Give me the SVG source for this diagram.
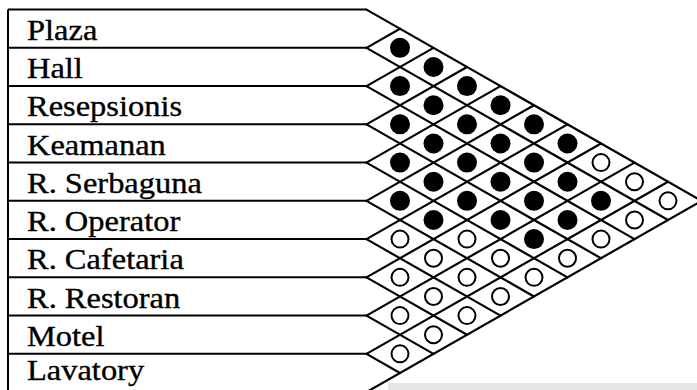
<svg xmlns="http://www.w3.org/2000/svg" width="697" height="390" viewBox="0 0 697 390">
<style>
.ln{stroke:#000;stroke-width:2.2;fill:none;stroke-linecap:round}
.hl{stroke:#000;stroke-width:2;fill:none}
.lbl{font-family:"Liberation Serif","Times New Roman",serif;font-size:29px;fill:#000;stroke:#000;stroke-width:0.35}
.f{fill:#000}
.o{fill:#fff;stroke:#000;stroke-width:2}
</style>
<rect x="0" y="0" width="697" height="390" fill="#fff"/>
<rect x="388" y="383" width="309" height="7" fill="#e6e6e6"/>
<line class="hl" x1="8" y1="9.6" x2="8" y2="390"/>
<line class="hl" x1="8" y1="9.6" x2="366.5" y2="9.6"/>
<g id="plaza"><line class="hl" x1="8" y1="47.85" x2="366.5" y2="47.85"/><text class="lbl" transform="translate(27,39.8) scale(1.12,1)">Plaza</text></g>
<g id="hall"><line class="hl" x1="8" y1="86.1" x2="366.5" y2="86.1"/><text class="lbl" transform="translate(27,78.1) scale(1.12,1)">Hall</text></g>
<g id="resepsionis"><line class="hl" x1="8" y1="124.35" x2="366.5" y2="124.35"/><text class="lbl" transform="translate(27,116.3) scale(1.12,1)">Resepsionis</text></g>
<g id="keamanan"><line class="hl" x1="8" y1="162.6" x2="366.5" y2="162.6"/><text class="lbl" transform="translate(27,154.6) scale(1.12,1)">Keamanan</text></g>
<g id="serbaguna"><line class="hl" x1="8" y1="200.85" x2="366.5" y2="200.85"/><text class="lbl" transform="translate(27,192.6) scale(1.12,1)">R. Serbaguna</text></g>
<g id="operator"><line class="hl" x1="8" y1="239.1" x2="366.5" y2="239.1"/><text class="lbl" transform="translate(27,231.1) scale(1.12,1)">R. Operator</text></g>
<g id="cafetaria"><line class="hl" x1="8" y1="277.35" x2="366.5" y2="277.35"/><text class="lbl" transform="translate(27,269.3) scale(1.12,1)">R. Cafetaria</text></g>
<g id="restoran"><line class="hl" x1="8" y1="315.6" x2="366.5" y2="315.6"/><text class="lbl" transform="translate(27,307.6) scale(1.12,1)">R. Restoran</text></g>
<g id="motel"><line class="hl" x1="8" y1="353.85" x2="366.5" y2="353.85"/><text class="lbl" transform="translate(27,345.8) scale(1.12,1)">Motel</text></g>
<g id="lavatory"><text class="lbl" transform="translate(27,380) scale(1.12,1)">Lavatory</text></g>
<g id="connectors">
<line class="ln" x1="366.5" y1="9.6" x2="701.5" y2="200.85"/>
<line class="ln" x1="366.5" y1="47.85" x2="668" y2="219.975"/>
<line class="ln" x1="366.5" y1="86.1" x2="634.5" y2="239.1"/>
<line class="ln" x1="366.5" y1="124.35" x2="601" y2="258.225"/>
<line class="ln" x1="366.5" y1="162.6" x2="567.5" y2="277.35"/>
<line class="ln" x1="366.5" y1="200.85" x2="534" y2="296.475"/>
<line class="ln" x1="366.5" y1="239.1" x2="500.5" y2="315.6"/>
<line class="ln" x1="366.5" y1="277.35" x2="467" y2="334.725"/>
<line class="ln" x1="366.5" y1="315.6" x2="433.5" y2="353.85"/>
<line class="ln" x1="366.5" y1="353.85" x2="400" y2="372.975"/>
<line class="ln" x1="366.5" y1="47.85" x2="400" y2="28.725"/>
<line class="ln" x1="366.5" y1="86.1" x2="433.5" y2="47.85"/>
<line class="ln" x1="366.5" y1="124.35" x2="467" y2="66.975"/>
<line class="ln" x1="366.5" y1="162.6" x2="500.5" y2="86.1"/>
<line class="ln" x1="366.5" y1="200.85" x2="534" y2="105.225"/>
<line class="ln" x1="366.5" y1="239.1" x2="567.5" y2="124.35"/>
<line class="ln" x1="366.5" y1="277.35" x2="601" y2="143.475"/>
<line class="ln" x1="366.5" y1="315.6" x2="634.5" y2="162.6"/>
<line class="ln" x1="366.5" y1="353.85" x2="668" y2="181.725"/>
<line class="ln" x1="366.5" y1="392.1" x2="701.5" y2="200.85"/>
</g>
<g id="cells">
<circle class="f" cx="400" cy="47.85" r="10"/>
<circle class="f" cx="400" cy="86.1" r="10"/>
<circle class="f" cx="400" cy="124.35" r="10"/>
<circle class="f" cx="400" cy="162.6" r="10"/>
<circle class="f" cx="400" cy="200.85" r="10"/>
<circle class="o" cx="400" cy="239.1" r="8.5"/>
<circle class="o" cx="400" cy="277.35" r="8.5"/>
<circle class="o" cx="400" cy="315.6" r="8.5"/>
<circle class="o" cx="400" cy="353.85" r="8.5"/>
<circle class="f" cx="433.5" cy="66.975" r="10"/>
<circle class="f" cx="433.5" cy="105.225" r="10"/>
<circle class="f" cx="433.5" cy="143.475" r="10"/>
<circle class="f" cx="433.5" cy="181.725" r="10"/>
<circle class="f" cx="433.5" cy="219.975" r="10"/>
<circle class="o" cx="433.5" cy="258.225" r="8.5"/>
<circle class="o" cx="433.5" cy="296.475" r="8.5"/>
<circle class="o" cx="433.5" cy="334.725" r="8.5"/>
<circle class="f" cx="467" cy="86.1" r="10"/>
<circle class="f" cx="467" cy="124.35" r="10"/>
<circle class="f" cx="467" cy="162.6" r="10"/>
<circle class="f" cx="467" cy="200.85" r="10"/>
<circle class="o" cx="467" cy="239.1" r="8.5"/>
<circle class="o" cx="467" cy="277.35" r="8.5"/>
<circle class="o" cx="467" cy="315.6" r="8.5"/>
<circle class="f" cx="500.5" cy="105.225" r="10"/>
<circle class="f" cx="500.5" cy="143.475" r="10"/>
<circle class="f" cx="500.5" cy="181.725" r="10"/>
<circle class="f" cx="500.5" cy="219.975" r="10"/>
<circle class="o" cx="500.5" cy="258.225" r="8.5"/>
<circle class="o" cx="500.5" cy="296.475" r="8.5"/>
<circle class="f" cx="534" cy="124.35" r="10"/>
<circle class="f" cx="534" cy="162.6" r="10"/>
<circle class="f" cx="534" cy="200.85" r="10"/>
<circle class="f" cx="534" cy="239.1" r="10"/>
<circle class="o" cx="534" cy="277.35" r="8.5"/>
<circle class="f" cx="567.5" cy="143.475" r="10"/>
<circle class="f" cx="567.5" cy="181.725" r="10"/>
<circle class="f" cx="567.5" cy="219.975" r="10"/>
<circle class="o" cx="567.5" cy="258.225" r="8.5"/>
<circle class="o" cx="601" cy="162.6" r="8.5"/>
<circle class="f" cx="601" cy="200.85" r="10"/>
<circle class="o" cx="601" cy="239.1" r="8.5"/>
<circle class="o" cx="634.5" cy="181.725" r="8.5"/>
<circle class="o" cx="634.5" cy="219.975" r="8.5"/>
<circle class="o" cx="668" cy="200.85" r="8.5"/>
</g>
</svg>
